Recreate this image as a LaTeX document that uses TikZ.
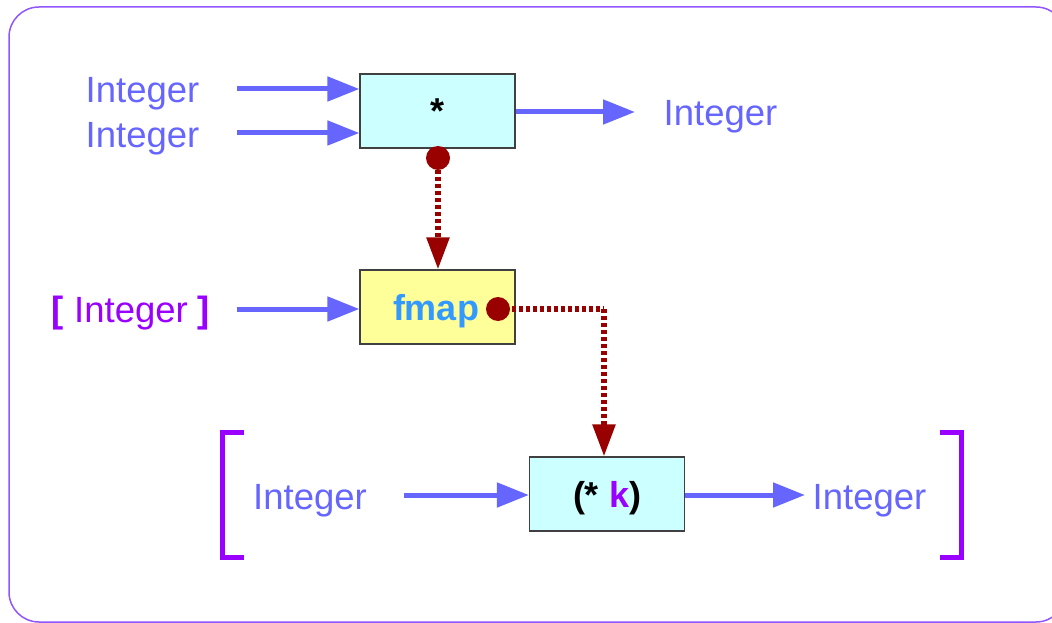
\documentclass[tikz,border=0pt]{standalone}
\usepackage{fontspec}
\setmainfont{Liberation Sans}
\usetikzlibrary{arrows.meta}
\definecolor{arrblue}{HTML}{6666FF}
\definecolor{lpurple}{HTML}{9900FF}
\definecolor{dred}{HTML}{990000}
\definecolor{fblue}{HTML}{3399FF}
\definecolor{boxcyan}{HTML}{CCFFFF}
\definecolor{boxyellow}{HTML}{FFFF99}
\definecolor{frame}{HTML}{9155FF}
\begin{document}
\begin{tikzpicture}[x=1pt,y=-1pt,
  lbl/.style={font=\fontsize{36.5}{42}\selectfont, text=arrblue, inner sep=0pt, anchor=base},
  fbox/.style={draw=black!75, line width=1.2pt, minimum width=155pt, minimum height=74pt, inner sep=0pt},
  btxt/.style={font=\fontsize{36}{42}\selectfont\bfseries, inner sep=0pt, anchor=base},
  flow/.style={draw=arrblue, line width=5pt, -{Triangle[length=32pt,width=24pt]}},
  dep/.style={draw=dred, line width=5.5pt, dash pattern=on 4pt off 3pt, -{Triangle[length=32pt,width=22pt]}},
  depline/.style={draw=dred, line width=5.5pt, dash pattern=on 4pt off 3pt},
  dot/.style={circle, fill=dred, minimum size=24pt, inner sep=0pt},
  brk/.style={draw=lpurple, line width=5pt}]
\useasboundingbox (0,0) rectangle (1052,623);
\draw[frame, line width=1.5pt, rounded corners=30pt] (9,7) rectangle (1066,622);

% top box
\node[fbox, fill=boxcyan] (mul) at (437.5,111) {};
\node[btxt] (multxt) at (437,124) {*};
\node[lbl] (i1) at (142.5,103) {Integer};
\node[lbl] (i2) at (142.5,148) {Integer};
\node[lbl] (o1) at (720.5,126) {Integer};
\coordinate (s1) at (237,89);
\coordinate (s2) at (237,133);
\draw[flow] (s1) -- (s1 -| mul.west);
\draw[flow] (s2) -- (s2 -| mul.west);
\coordinate (t1) at (635,112);
\draw[flow] (t1 -| mul.east) -- (t1);

% fmap box
\node[fbox, fill=boxyellow] (fmap) at (437.5,307) {};
\node[btxt, text=fblue] (fmaptxt) at (436,320) {fmap};
\node[dot] (d1) at (438,158) {};
\draw[dep] (d1) -- (d1 |- fmap.north);
\node[lbl, text=lpurple] (li) at (131,322) {\textbf{[} Integer \textbf{]}};
\coordinate (s3) at (237,309);
\draw[flow] (s3) -- (s3 -| fmap.west);

% bottom box
\node[fbox, fill=boxcyan] (kbox) at (607,494) {};
\node[btxt] (ktxt) at (607,507) {(* \textcolor{lpurple}{k})};
\node[dot] (d2) at (498,309) {};
\coordinate (c1) at (604,309);
\draw[depline] (d2.center) -- (c1);
\draw[dep] (c1) -- (c1 |- kbox.north);
\node[lbl] (i3) at (310,509) {Integer};
\node[lbl] (o3) at (869.5,509) {Integer};
\coordinate (s4) at (404,495);
\draw[flow] (s4) -- (s4 -| kbox.west);
\coordinate (t4) at (805,495);
\draw[flow] (t4 -| kbox.east) -- (t4);

% big brackets
\draw[brk] (244,432) -- (222.5,432) -- (222.5,557) -- (244,557);
\draw[brk] (940,432) -- (961.5,432) -- (961.5,557) -- (940,557);
\end{tikzpicture}
\end{document}
